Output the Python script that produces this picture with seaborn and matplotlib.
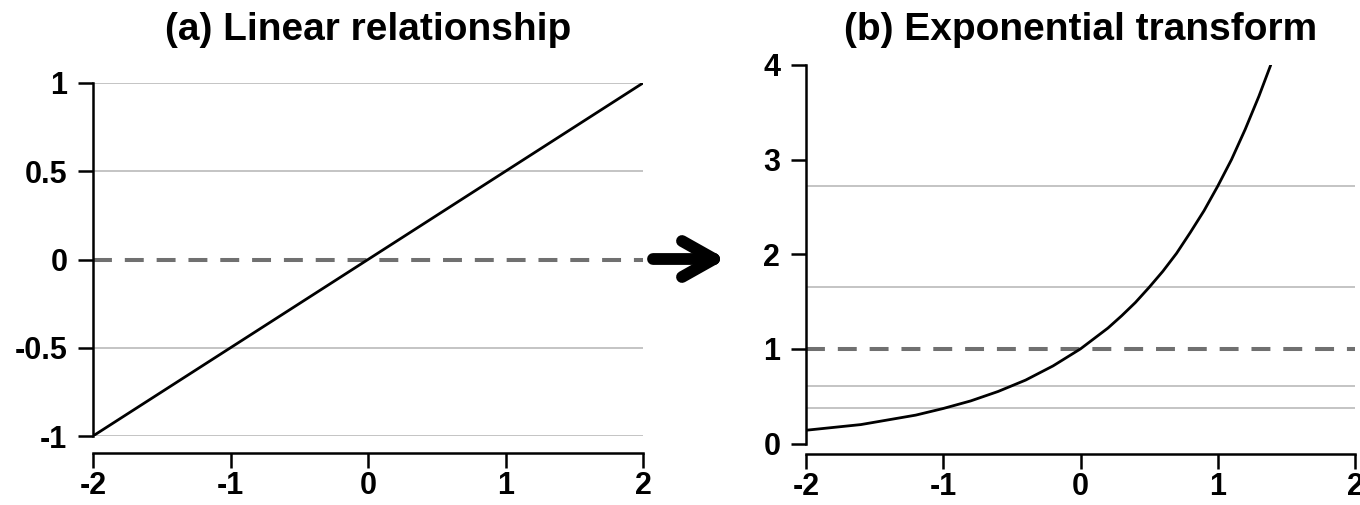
import matplotlib
matplotlib.use("Agg")
import matplotlib.pyplot as plt
import seaborn as sns
import pandas as pd
from matplotlib.lines import Line2D

sns.set_theme(style="ticks")
plt.rcParams["font.family"] = ["Liberation Sans", "DejaVu Sans"]
plt.rcParams["font.weight"] = "bold"

# === datos ===
# (a) relacion lineal
lin_x = [-2, 2]
lin_y = [-1, 1]
lin_ref = [-1, -0.5, 0.5, 1]
lin_dash = 0
lin_yticks = [-1, -0.5, 0, 0.5, 1]
lin_ylabels = ["-1", "-0.5", "0", "0.5", "1"]

# (b) transformacion exponencial
exp_x = [-2.0, -1.8, -1.6, -1.4, -1.2, -1.0, -0.8, -0.6, -0.4, -0.2, 0.0,
         0.1, 0.2, 0.3, 0.4, 0.5, 0.6, 0.7, 0.8, 0.9, 1.0, 1.1, 1.2, 1.3, 1.386]
exp_y = [0.14, 0.17, 0.20, 0.25, 0.30, 0.37, 0.45, 0.55, 0.67, 0.82, 1.00,
         1.11, 1.22, 1.35, 1.49, 1.65, 1.82, 2.01, 2.23, 2.46, 2.72, 3.00, 3.32, 3.67, 4.00]
exp_ref = [0.37, 0.61, 1.65, 2.72]
exp_dash = 1
exp_yticks = [0, 1, 2, 3, 4]

xticks = [-2, -1, 0, 1, 2]
titulos = ["(a) Linear relationship", "(b) Exponential transform"]

W, H = 1360, 505
fig = plt.figure(figsize=(W / 100, H / 100), dpi=100)

def px_axes(x0, x1, ytop, ybot):
    return fig.add_axes([x0 / W, (H - ybot) / H, (x1 - x0) / W, (ybot - ytop) / H])

ax1 = px_axes(93, 643, 83, 436)
ax2 = px_axes(806, 1355, 65, 443.5)

def estilo(ax, ylo, yhi, offset_pt):
    ax.set_xlim(-2, 2)
    ax.set_ylim(ylo, yhi)
    for s in ["top", "right"]:
        ax.spines[s].set_visible(False)
    for s in ["left", "bottom"]:
        ax.spines[s].set_linewidth(1.8)
        ax.spines[s].set_color("black")
    ax.spines["left"].set_bounds(ylo, yhi)
    ax.spines["bottom"].set_bounds(-2, 2)
    ax.spines["bottom"].set_position(("outward", offset_pt))
    ax.set_xticks(xticks)
    ax.set_xticklabels([str(t) for t in xticks])
    ax.tick_params(length=10.5, width=1.8, color="black",
                   labelsize=22, labelcolor="black")
    ax.tick_params(axis="y", pad=8)
    ax.tick_params(axis="x", pad=2.5)
    for lab in ax.get_xticklabels() + ax.get_yticklabels():
        lab.set_fontweight("bold")
    ax.set_xlabel("")
    ax.set_ylabel("")
    ax.set_facecolor("white")

# panel (a)
ax1.hlines(lin_ref, -2, 2, color="#bfbfbf", lw=1.3, zorder=1)
ax1.axhline(lin_dash, color="#707070", lw=2.9, dashes=(4.7, 3.2), zorder=1)
sns.lineplot(x=lin_x, y=lin_y, ax=ax1, color="black", lw=2, zorder=3)
ax1.set_yticks(lin_yticks)
ax1.set_yticklabels(lin_ylabels)
estilo(ax1, -1, 1, 12)

# panel (b)
ax2.hlines(exp_ref, -2, 2, color="#bfbfbf", lw=1.3, zorder=1)
ax2.axhline(exp_dash, color="#707070", lw=2.9, dashes=(4.7, 3.2), zorder=1)
df = pd.DataFrame({"x": exp_x, "y": exp_y})
sns.lineplot(data=df, x="x", y="y", ax=ax2, color="black", lw=2,
             estimator=None, sort=True, zorder=3)
ax2.set_yticks(exp_yticks)
ax2.set_yticklabels([str(t) for t in exp_yticks])
estilo(ax2, 0, 4, 7.5)

# titulos
for ax, t, cx in [(ax1, titulos[0], 368), (ax2, titulos[1], 1081)]:
    fig.text(cx / W, (H - 40) / H, t, ha="center", va="baseline",
             fontsize=28, fontweight="bold", color="black")

# flecha entre paneles
flecha = [((653, 259), (714, 259)), ((682, 241), (714, 259)), ((682, 277), (714, 259))]
for (xa, ya), (xb, yb) in flecha:
    fig.add_artist(Line2D([xa / W, xb / W], [(H - ya) / H, (H - yb) / H],
                          transform=fig.transFigure, color="black", lw=8.5,
                          solid_capstyle="round"))

fig.savefig("out.png", dpi=100, facecolor="white")
